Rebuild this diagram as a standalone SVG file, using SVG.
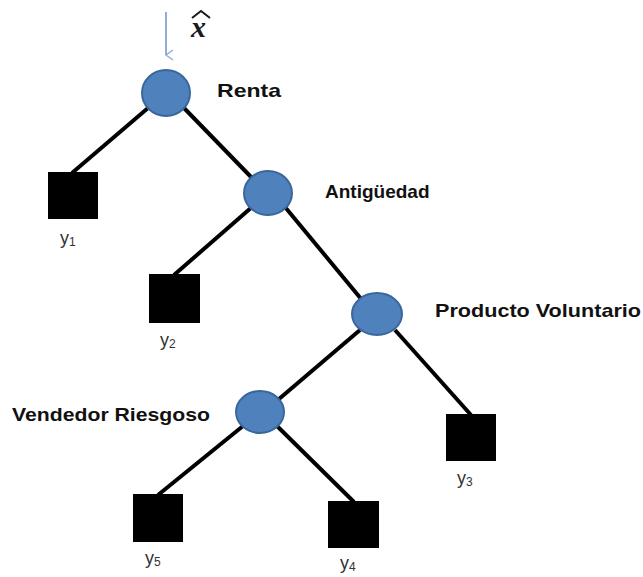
<svg xmlns="http://www.w3.org/2000/svg" width="643" height="577" viewBox="0 0 643 577">
  <style>
    .edge { stroke: #000; stroke-width: 4; stroke-linecap: butt; }
    .node { fill: #4f81bd; stroke: #3a679b; stroke-width: 2; }
    .leaf { fill: #000; }
    .lbl { font-family: "Liberation Sans", Arial, sans-serif; font-weight: bold; font-size: 19px; fill: #111; }
    .out { font-family: "Liberation Sans", Arial, sans-serif; font-size: 18px; fill: #333; }
    .sub { font-size: 12px; }
  </style>
  <defs>
    <marker id="arrow" markerWidth="12" markerHeight="10" refX="6" refY="8" orient="auto-start-reverse" markerUnits="userSpaceOnUse" viewBox="0 0 12 10">
      <path d="M1 1 L6 8 L11 1" fill="none" stroke="#8eaed8" stroke-width="1.5"/>
    </marker>
  </defs>
  <rect width="643" height="577" fill="#fff"/>

  <!-- connectors -->
  <g id="connectors">
    <line class="edge" x1="148" y1="108" x2="72" y2="173"/>
    <line class="edge" x1="184" y1="108" x2="253" y2="179"/>
    <line class="edge" x1="252" y1="207" x2="174" y2="275"/>
    <line class="edge" x1="285" y1="207" x2="362" y2="300"/>
    <line class="edge" x1="360" y1="330" x2="279" y2="399"/>
    <line class="edge" x1="395" y1="330" x2="471" y2="415"/>
    <line class="edge" x1="243" y1="426" x2="158" y2="495"/>
    <line class="edge" x1="277" y1="426" x2="354" y2="502"/>
    <line x1="166" y1="12" x2="166" y2="55" stroke="#8eaed8" stroke-width="2" marker-end="url(#arrow)"/>
  </g>

  <!-- input vector x-hat -->
  <g id="input">
    <text x="191" y="37" font-family="Liberation Serif, serif" font-style="italic" font-weight="bold" font-size="30" fill="#1a1a1a">x</text>
    <path d="M192 18 L201 11 L210 18" fill="none" stroke="#1a1a1a" stroke-width="2"/>
  </g>

  <g id="renta">
    <ellipse class="node" cx="166" cy="93" rx="24" ry="23"/>
    <text class="lbl" x="217" y="97" textLength="64" lengthAdjust="spacingAndGlyphs">Renta</text>
  </g>
  <g id="antiguedad">
    <ellipse class="node" cx="268" cy="193" rx="24" ry="22"/>
    <text class="lbl" x="325" y="198" font-size="18">Antigüedad</text>
  </g>
  <g id="producto">
    <ellipse class="node" cx="377" cy="314" rx="25" ry="21"/>
    <text class="lbl" x="435" y="317" textLength="206" lengthAdjust="spacingAndGlyphs">Producto Voluntario</text>
  </g>
  <g id="vendedor">
    <ellipse class="node" cx="260" cy="412" rx="24" ry="21"/>
    <text class="lbl" x="12" y="421" textLength="198" lengthAdjust="spacingAndGlyphs">Vendedor Riesgoso</text>
  </g>

  <g id="y1">
    <rect class="leaf" x="48" y="172" width="50" height="47"/>
    <text class="out" x="60" y="244">y<tspan class="sub" dy="2">1</tspan></text>
  </g>
  <g id="y2">
    <rect class="leaf" x="149" y="274" width="51" height="49"/>
    <text class="out" x="160" y="346">y<tspan class="sub" dy="2">2</tspan></text>
  </g>
  <g id="y3">
    <rect class="leaf" x="446" y="414" width="50" height="47"/>
    <text class="out" x="457" y="484">y<tspan class="sub" dy="2">3</tspan></text>
  </g>
  <g id="y5">
    <rect class="leaf" x="133" y="494" width="50" height="48"/>
    <text class="out" x="145" y="564">y<tspan class="sub" dy="2">5</tspan></text>
  </g>
  <g id="y4">
    <rect class="leaf" x="328" y="501" width="51" height="47"/>
    <text class="out" x="340" y="569">y<tspan class="sub" dy="2">4</tspan></text>
  </g>
</svg>
